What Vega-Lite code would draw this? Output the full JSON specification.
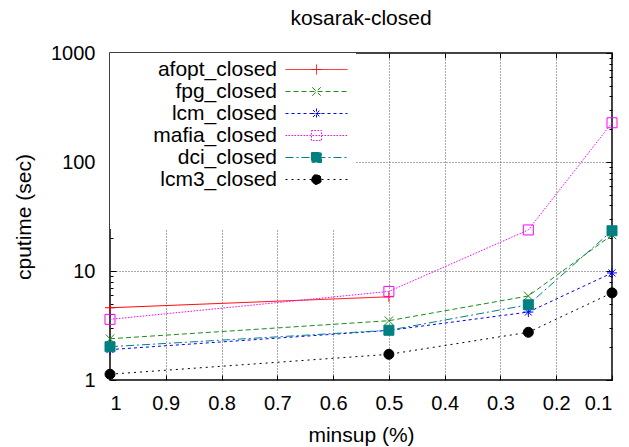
{
  "$schema": "https://vega.github.io/schema/vega-lite/v6.json",
  "width": 502,
  "height": 327,
  "autosize": "none",
  "padding": {"left": 110, "top": 53, "right": 17, "bottom": 67},
  "background": "white",
  "title": {"text": "kosarak-closed", "fontSize": 21, "fontWeight": "normal", "font": "Liberation Sans", "color": "black", "offset": 14, "anchor": "middle"},
  "config": {
    "font": "Liberation Sans",
    "view": {"stroke": "black", "strokeWidth": 1.5},
    "axis": {"labelColor": "black", "titleColor": "black", "tickColor": "black", "labelFontSize": 20, "titleFontSize": 21, "titleFontWeight": "normal", "domain": false, "gridColor": "#555555", "gridDash": [1, 2], "gridWidth": 1}
  },
  "data": {
    "values": [
      {"series": "afopt_closed", "minsup": 1, "cputime": 4.6},
      {"series": "afopt_closed", "minsup": 0.5, "cputime": 5.8},
      {"series": "fpg_closed", "minsup": 1, "cputime": 2.39},
      {"series": "fpg_closed", "minsup": 0.5, "cputime": 3.5},
      {"series": "fpg_closed", "minsup": 0.25, "cputime": 5.9},
      {"series": "fpg_closed", "minsup": 0.1, "cputime": 21.4},
      {"series": "lcm_closed", "minsup": 1, "cputime": 1.9},
      {"series": "lcm_closed", "minsup": 0.5, "cputime": 2.85},
      {"series": "lcm_closed", "minsup": 0.25, "cputime": 4.2},
      {"series": "lcm_closed", "minsup": 0.1, "cputime": 9.6},
      {"series": "mafia_closed", "minsup": 1, "cputime": 3.6},
      {"series": "mafia_closed", "minsup": 0.5, "cputime": 6.5},
      {"series": "mafia_closed", "minsup": 0.25, "cputime": 23.8},
      {"series": "mafia_closed", "minsup": 0.1, "cputime": 229},
      {"series": "dci_closed", "minsup": 1, "cputime": 2.02},
      {"series": "dci_closed", "minsup": 0.5, "cputime": 2.86},
      {"series": "dci_closed", "minsup": 0.25, "cputime": 4.9},
      {"series": "dci_closed", "minsup": 0.1, "cputime": 23.4},
      {"series": "lcm3_closed", "minsup": 1, "cputime": 1.13},
      {"series": "lcm3_closed", "minsup": 0.5, "cputime": 1.72},
      {"series": "lcm3_closed", "minsup": 0.25, "cputime": 2.74},
      {"series": "lcm3_closed", "minsup": 0.1, "cputime": 6.3}
    ]
  },
  "layer": [
    {
      "mark": {"type": "line", "strokeWidth": 1},
      "encoding": {
        "x": {"field": "minsup", "type": "quantitative", "scale": {"domain": [0.1, 1], "reverse": true, "nice": false, "zero": false},
          "axis": {"orient": "bottom", "title": "minsup (%)", "values": [0.1, 0.2, 0.3, 0.4, 0.5, 0.6, 0.7, 0.8, 0.9, 1], "format": "~g", "tickSize": -5, "labelPadding": 18, "titlePadding": 11, "grid": true}},
        "y": {"field": "cputime", "type": "quantitative", "scale": {"type": "log", "domain": [1, 1000], "nice": false},
          "axis": {"orient": "left", "title": "cputime (sec)", "values": [1, 2, 3, 4, 5, 6, 7, 8, 9, 10, 20, 30, 40, 50, 60, 70, 80, 90, 100, 200, 300, 400, 500, 600, 700, 800, 900, 1000],
            "labelExpr": "indexof([1, 10, 100, 1000], datum.value) >= 0 ? format(datum.value, 'd') : ''",
            "tickSize": {"condition": {"test": "indexof([1, 10, 100, 1000], datum.value) >= 0", "value": -6}, "value": -3},
            "gridOpacity": {"condition": {"test": "indexof([1, 10, 100, 1000], datum.value) >= 0", "value": 1}, "value": 0},
            "grid": true, "labelPadding": 21, "titlePadding": 16}},
        "stroke": {"field": "series", "type": "nominal", "legend": null,
          "scale": {"domain": ["afopt_closed", "fpg_closed", "lcm_closed", "mafia_closed", "dci_closed", "lcm3_closed"], "range": ["#ff0000", "#1a8c1a", "#0000ff", "#ff00ff", "#008080", "#000000"]}},
        "strokeDash": {"field": "series", "type": "nominal", "legend": null,
          "scale": {"domain": ["afopt_closed", "fpg_closed", "lcm_closed", "mafia_closed", "dci_closed", "lcm3_closed"], "range": [[1, 0], [5, 3], [3, 3], [1.5, 1.5], [8, 3, 2, 3], [2, 4]]}}
      }
    },
    {
      "mark": {"type": "point", "size": 100, "strokeWidth": 1, "opacity": 1},
      "encoding": {
        "x": {"field": "minsup", "type": "quantitative", "scale": {"domain": [0.1, 1], "reverse": true, "nice": false, "zero": false},
          "axis": {"orient": "top", "title": null, "labels": false, "grid": false, "values": [0.1, 0.2, 0.3, 0.4, 0.5, 0.6, 0.7, 0.8, 0.9, 1], "tickSize": -5}},
        "y": {"field": "cputime", "type": "quantitative", "scale": {"type": "log", "domain": [1, 1000], "nice": false},
          "axis": {"orient": "right", "title": null, "labels": false, "grid": false, "values": [1, 2, 3, 4, 5, 6, 7, 8, 9, 10, 20, 30, 40, 50, 60, 70, 80, 90, 100, 200, 300, 400, 500, 600, 700, 800, 900, 1000],
            "tickSize": {"condition": {"test": "indexof([1, 10, 100, 1000], datum.value) >= 0", "value": -6}, "value": -3}}},
        "stroke": {"field": "series", "type": "nominal", "legend": null,
          "scale": {"domain": ["afopt_closed", "fpg_closed", "lcm_closed", "mafia_closed", "dci_closed", "lcm3_closed"], "range": ["#ff0000", "#1a8c1a", "#0000ff", "#ff00ff", "#008080", "#000000"]}},
        "fill": {"field": "series", "type": "nominal", "legend": null,
          "scale": {"domain": ["afopt_closed", "fpg_closed", "lcm_closed", "mafia_closed", "dci_closed", "lcm3_closed"], "range": ["transparent", "transparent", "transparent", "transparent", "#008080", "#000000"]}},
        "shape": {"field": "series", "type": "nominal", "legend": null,
          "scale": {"domain": ["afopt_closed", "fpg_closed", "lcm_closed", "mafia_closed", "dci_closed", "lcm3_closed"], "range": ["M-1,0H1M0,-1V1", "M-0.85,-0.85L0.85,0.85M-0.85,0.85L0.85,-0.85", "M-1,0H1M0,-1V1M-0.7,-0.7L0.7,0.7M-0.7,0.7L0.7,-0.7", "M-1,-1H1V1H-1Z", "M-1,-1H1V1H-1Z", "circle"]}}
      }
    },
    {
      "transform": [{"filter": "datum.cputime < 0"}],
      "mark": {"type": "point", "size": 100, "strokeWidth": 1, "opacity": 1},
      "encoding": {
        "x": {"field": "minsup", "type": "quantitative", "scale": {"domain": [0.1, 1], "reverse": true, "nice": false, "zero": false}, "axis": null},
        "y": {"field": "cputime", "type": "quantitative", "scale": {"type": "log", "domain": [1, 1000], "nice": false}, "axis": null},
        "stroke": {"field": "series", "type": "nominal",
          "scale": {"domain": ["afopt_closed", "fpg_closed", "lcm_closed", "mafia_closed", "dci_closed", "lcm3_closed"], "range": ["#ff0000", "#1a8c1a", "#0000ff", "#ff00ff", "#008080", "#000000"]},
          "legend": {"orient": "top-left", "offset": 0, "padding": 6, "fillColor": "white", "title": " ", "titleOrient": "bottom", "titleFontSize": 21, "titlePadding": 12, "labelFontSize": 21, "labelColor": "black", "labelAlign": "right", "labelOffset": -50, "symbolOffset": 190, "symbolSize": 100, "symbolStrokeWidth": 1, "rowPadding": 0, "labelLimit": 300, "symbolOpacity": 1}},
        "fill": {"field": "series", "type": "nominal",
          "scale": {"domain": ["afopt_closed", "fpg_closed", "lcm_closed", "mafia_closed", "dci_closed", "lcm3_closed"], "range": ["transparent", "transparent", "transparent", "transparent", "#008080", "#000000"]}},
        "shape": {"field": "series", "type": "nominal",
          "scale": {"domain": ["afopt_closed", "fpg_closed", "lcm_closed", "mafia_closed", "dci_closed", "lcm3_closed"], "range": ["M-6.2,0H6.2M-1,0H1M0,-1V1", "M-6.2,0H6.2M-0.85,-0.85L0.85,0.85M-0.85,0.85L0.85,-0.85", "M-6.2,0H6.2M-1,0H1M0,-1V1M-0.7,-0.7L0.7,0.7M-0.7,0.7L0.7,-0.7", "M-6.2,0H6.2M-1,-1H1V1H-1Z", "M-6.2,0H6.2M-1,-1H1V1H-1Z", "M-6.2,0H6.2M-1,0A1,1,0,1,0,1,0A1,1,0,1,0,-1,0Z"]}},
        "strokeDash": {"field": "series", "type": "nominal",
          "scale": {"domain": ["afopt_closed", "fpg_closed", "lcm_closed", "mafia_closed", "dci_closed", "lcm3_closed"], "range": [[1, 0], [5, 3], [3, 3], [1.5, 1.5], [8, 3, 2, 3], [2, 4]]}}
      }
    }
  ],
  "resolve": {
    "scale": {"stroke": "independent", "fill": "independent", "shape": "independent", "strokeDash": "independent"},
    "axis": {"x": "independent", "y": "independent"}
  }
}
